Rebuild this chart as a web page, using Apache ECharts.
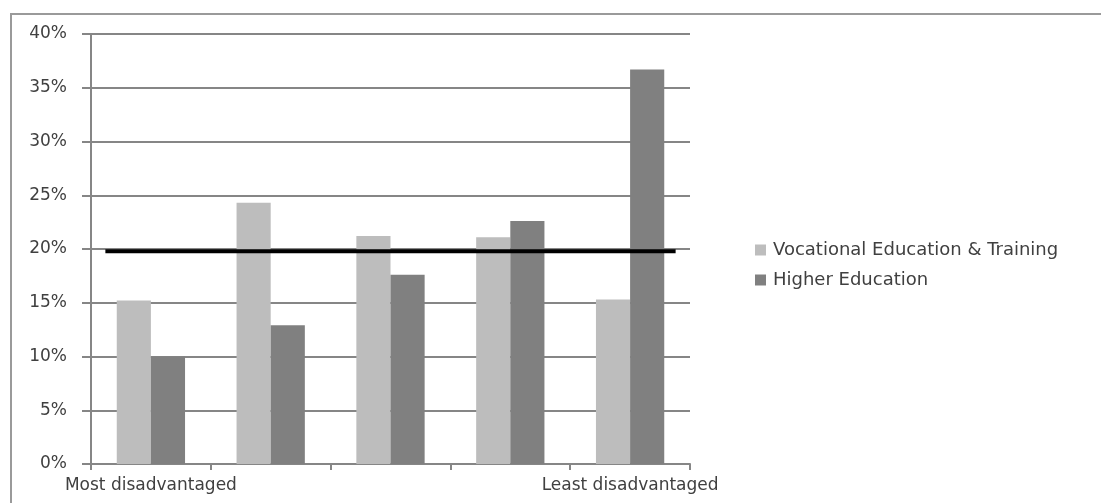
<!DOCTYPE html>
<html>
<head>
<meta charset="utf-8">
<script src="https://cdn.jsdelivr.net/npm/echarts@6/dist/echarts.min.js"></script>
<style>
  html, body { margin: 0; padding: 0; background: #fff; }
  #chart { width: 1101px; height: 503px; }
</style>
</head>
<body>
<div id="chart"></div>
<script>
// Share of students by disadvantage quintile
const categories = ['Most disadvantaged', '', '', '', 'Least disadvantaged'];
const vetShare = [15.2, 24.3, 21.2, 21.1, 15.3];
const higherEdShare = [10.0, 12.9, 17.6, 22.6, 36.7];
// Population-parity reference line (equal 20% share per quintile)
const parityLevel = 19.8;
const parityLine = [[0.12, parityLevel], [4.88, parityLevel]];
const yTicks = [0, 5, 10, 15, 20, 25, 30, 35, 40];

const textColor = '#404040';
const fontFamily = '"DejaVu Sans", Verdana, sans-serif';

const chart = echarts.init(document.getElementById('chart'), null, { renderer: 'canvas' });

chart.setOption({
  animation: false,
  backgroundColor: '#ffffff',
  graphic: [
    {
      type: 'polyline',
      shape: { points: [[11, 503], [11, 14], [1101, 14]] },
      style: { stroke: '#9a9a9a', lineWidth: 2, fill: null },
      silent: true
    }
  ],
  grid: { left: 91, right: 411, top: 34, bottom: 39, containLabel: false },
  legend: {
    orient: 'vertical',
    left: 750,
    top: 236,
    itemWidth: 11,
    itemHeight: 11,
    itemGap: 12,
    icon: 'rect',
    data: ['Vocational Education & Training', 'Higher Education'],
    textStyle: { color: textColor, fontSize: 18, fontFamily: fontFamily, padding: [0, 0, 0, 2] }
  },
  xAxis: [
    {
      type: 'category',
      data: categories,
      axisLine: { lineStyle: { color: '#868686', width: 2 } },
      axisTick: { show: true, length: 6, lineStyle: { color: '#868686', width: 2 } },
      axisLabel: { color: textColor, fontSize: 17, fontFamily: fontFamily, margin: 13, interval: 0 },
      splitLine: { show: false }
    },
    {
      type: 'value',
      min: 0,
      max: 5,
      show: false
    }
  ],
  yAxis: {
    type: 'value',
    min: 0,
    max: 40,
    interval: 5,
    axisLine: { show: true, lineStyle: { color: '#868686', width: 2 } },
    axisTick: { show: true, length: 9, lineStyle: { color: '#868686', width: 2 } },
    axisLabel: {
      color: textColor,
      fontSize: 17,
      fontFamily: fontFamily,
      margin: 24,
      formatter: function (v) { return yTicks.indexOf(v) >= 0 ? v + '%' : ''; }
    },
    splitLine: { show: true, lineStyle: { color: '#868686', width: 2 } }
  },
  series: [
    {
      name: 'Vocational Education & Training',
      type: 'bar',
      data: vetShare,
      barGap: '0%',
      barCategoryGap: '43%',
      itemStyle: { color: '#bdbdbd' }
    },
    {
      name: 'Higher Education',
      type: 'bar',
      data: higherEdShare,
      barGap: '0%',
      barCategoryGap: '43%',
      itemStyle: { color: '#808080' }
    },
    {
      name: 'Parity',
      type: 'line',
      xAxisIndex: 1,
      data: parityLine,
      symbol: 'none',
      lineStyle: { color: '#000000', width: 4 },
      silent: true,
      z: 5
    }
  ]
});
</script>
</body>
</html>
